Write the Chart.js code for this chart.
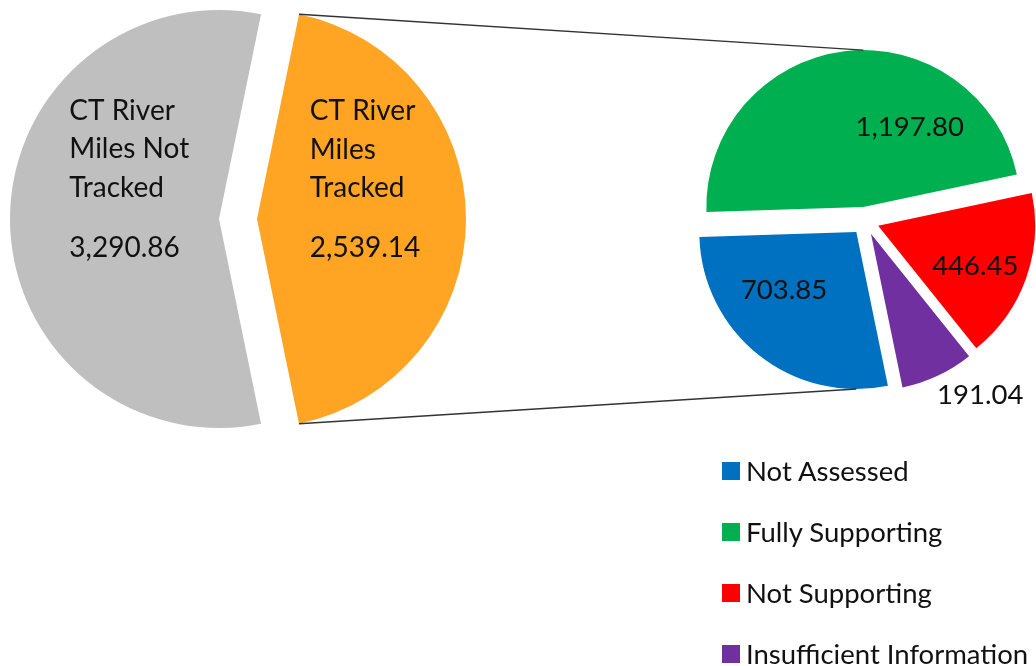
<!DOCTYPE html>
<html>
<head>
<meta charset="utf-8">
<script src="https://cdn.jsdelivr.net/npm/chart.js@4"></script>
<style>
  body { margin: 0; background: #fff; }
  #wrap { position: relative; width: 1036px; height: 666px; overflow: hidden; }
  #wrap canvas { position: absolute; left: 0; top: 0; }
  #legend { position: absolute; left: 722px; top: 440px; margin: 0; padding: 0; list-style: none;
            font-family: Lato, sans-serif; font-size: 27.5px; color: #111; }
  #legend li { display: flex; align-items: center; height: 61px; white-space: nowrap; }
  #legend span { display: inline-block; width: 18px; height: 18px; margin-right: 6px; }
</style>
</head>
<body>
<div id="wrap">
  <canvas id="mainPie" width="1036" height="666"></canvas>
  <canvas id="splitPie" width="1036" height="666"></canvas>
  <ul id="legend"></ul>
</div>
<script>
// main pie: CT river miles
const mainLabels = ['CT River Miles Not Tracked', 'CT River Miles Tracked'];
const mainValues = [3290.86, 2539.14];

// second pie: split of the tracked miles
const splitLabels = ['Not Assessed', 'Fully Supporting', 'Not Supporting', 'Insufficient Information'];
const splitValues = [703.85, 1197.80, 446.45, 191.04];

const mainColors = ['#BFBFBF', '#FFA423'];
const splitColors = ['#0070C0', '#00B050', '#FF0000', '#7030A0'];

const firstSliceAngle = 168.4;
const FONT = 'Lato, sans-serif';
const TEXT = '#111';

function fmt(v) {
  return v.toLocaleString('en-US', { minimumFractionDigits: 2, maximumFractionDigits: 2 });
}

function wrapText(ctx, text, maxW) {
  const words = text.split(' ');
  const lines = [];
  let cur = '';
  words.forEach(w => {
    const test = cur ? cur + ' ' + w : w;
    if (cur && ctx.measureText(test).width > maxW) {
      lines.push(cur);
      cur = w;
    } else {
      cur = test;
    }
  });
  if (cur) lines.push(cur);
  return lines;
}

// pulls every slice out along its middle angle
const explode = {
  id: 'explode',
  afterDatasetUpdate(chart, args, opts) {
    const d = opts.distance || 0;
    args.meta.data.forEach(arc => {
      const mid = (arc.startAngle + arc.endAngle) / 2;
      arc.x += Math.cos(mid) * d;
      arc.y += Math.sin(mid) * d;
    });
  }
};

// excel-like data labels
const sliceLabels = {
  id: 'sliceLabels',
  afterDatasetsDraw(chart, args, opts) {
    const ctx = chart.ctx;
    const meta = chart.getDatasetMeta(0);
    const values = chart.data.datasets[0].data;
    ctx.save();
    ctx.font = opts.font;
    ctx.fillStyle = opts.color;
    ctx.textAlign = 'left';
    ctx.textBaseline = 'middle';
    meta.data.forEach((arc, i) => {
      const lines = opts.showNames ? wrapText(ctx, chart.data.labels[i], opts.wrapWidth) : [];
      const value = fmt(values[i]);
      const [rf, shift] = opts.place[i];
      const a = (arc.startAngle + arc.endAngle) / 2 + shift * Math.PI / 180;
      const ax = arc.x + Math.cos(a) * arc.outerRadius * rf;
      const ay = arc.y + Math.sin(a) * arc.outerRadius * rf;
      const valueY = lines.length ? (lines.length - 1) * opts.lineHeight + opts.valueGap : 0;
      const w = Math.max(ctx.measureText(value).width, ...lines.map(l => ctx.measureText(l).width));
      const left = ax - w / 2;
      const top = ay - valueY / 2;
      lines.forEach((l, k) => ctx.fillText(l, left, top + k * opts.lineHeight));
      ctx.fillText(value, left, top + valueY);
    });
    ctx.restore();
  }
};

function arcAt(meta, angle) {
  return meta.data.find(a => {
    let t = angle;
    while (t < a.startAngle) t += Math.PI * 2;
    while (t >= a.startAngle + Math.PI * 2) t -= Math.PI * 2;
    return t <= a.endAngle;
  });
}

// lines from the split slice to the second pie
const connectors = {
  id: 'connectors',
  afterDraw(chart, args, opts) {
    const src = opts.source.getDatasetMeta(0).data[opts.sourceIndex];
    const meta = chart.getDatasetMeta(0);
    const topArc = arcAt(meta, -Math.PI / 2);
    const botArc = arcAt(meta, Math.PI / 2);
    const ctx = chart.ctx;
    ctx.save();
    ctx.strokeStyle = '#333';
    ctx.lineWidth = 1.4;
    ctx.beginPath();
    ctx.moveTo(src.x + Math.cos(src.startAngle) * src.outerRadius, src.y + Math.sin(src.startAngle) * src.outerRadius);
    ctx.lineTo(topArc.x, topArc.y - topArc.outerRadius);
    ctx.moveTo(src.x + Math.cos(src.endAngle) * src.outerRadius, src.y + Math.sin(src.endAngle) * src.outerRadius);
    ctx.lineTo(botArc.x, botArc.y + botArc.outerRadius);
    ctx.stroke();
    ctx.restore();
  }
};

const mainChart = new Chart(document.getElementById('mainPie'), {
  type: 'pie',
  data: {
    labels: mainLabels,
    datasets: [{
      data: mainValues,
      backgroundColor: mainColors,
      borderWidth: 0,
      hoverOffset: 0
    }]
  },
  options: {
    responsive: false,
    animation: false,
    events: [],
    rotation: firstSliceAngle,
    layout: { padding: { left: 29, top: 10, right: 589, bottom: 238 } },
    plugins: {
      legend: { display: false },
      tooltip: { enabled: false },
      explode: { distance: 19 },
      sliceLabels: {
        font: '28px ' + FONT,
        color: TEXT,
        showNames: true,
        wrapWidth: 140,
        lineHeight: 38.5,
        valueGap: 60,
        place: [[0.47, 24], [0.55, -20]]
      }
    }
  },
  plugins: [explode, sliceLabels]
});

const splitChart = new Chart(document.getElementById('splitPie'), {
  type: 'pie',
  data: {
    labels: splitLabels,
    datasets: [{
      data: splitValues,
      backgroundColor: splitColors,
      borderWidth: 0,
      hoverOffset: 0
    }]
  },
  options: {
    responsive: false,
    animation: false,
    events: [],
    rotation: firstSliceAngle,
    layout: { padding: { left: 708, top: 64, right: 14, bottom: 288 } },
    plugins: {
      legend: { display: false },
      tooltip: { enabled: false },
      explode: { distance: 14 },
      sliceLabels: {
        font: '27.5px ' + FONT,
        color: TEXT,
        showNames: false,
        place: [[0.59, 13], [0.59, 37], [0.67, 3], [1.24, -9]]
      },
      connectors: { source: mainChart, sourceIndex: 1 }
    }
  },
  plugins: [explode, sliceLabels, connectors]
});

// legend list for the second pie
const legendEl = document.getElementById('legend');
splitChart.data.labels.forEach((label, i) => {
  const li = document.createElement('li');
  const box = document.createElement('span');
  box.style.background = splitChart.data.datasets[0].backgroundColor[i];
  li.appendChild(box);
  li.appendChild(document.createTextNode(label));
  legendEl.appendChild(li);
});
</script>
</body>
</html>
